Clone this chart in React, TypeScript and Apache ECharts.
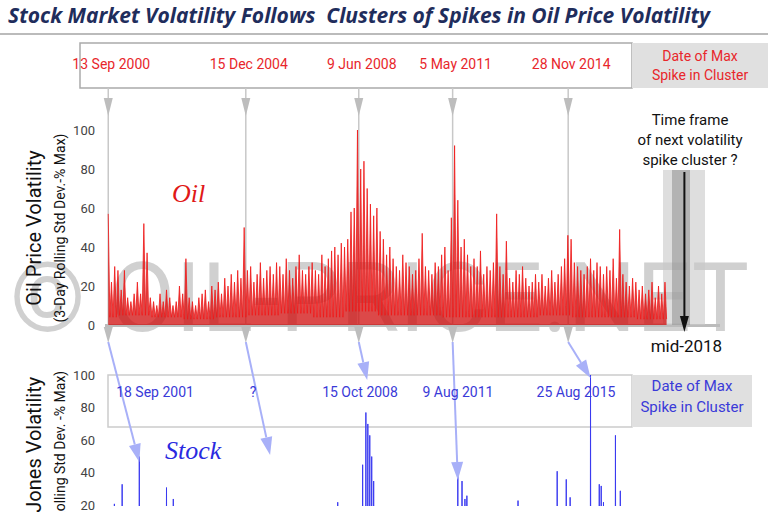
import { useEffect, useRef } from 'react'
import * as echarts from 'echarts'

// oil peaks, 10 per year from 2000.7 to 2017.9
const oilStart = 2000.7
const oilPeaks = [
  57, 22, 30,
  28, 18, 28, 14, 12, 16, 22, 16, 52, 37,
  14, 12, 10, 16, 12, 18, 14, 10, 12, 20,
  16, 34, 14, 12, 10, 14, 16, 18, 12, 20,
  18, 22, 16, 24, 20, 26, 22, 28, 24, 50,
  28, 30, 22, 26, 32, 24, 28, 30, 26, 32,
  30, 26, 34, 28, 24, 30, 36, 28, 26, 30,
  32, 28, 26, 36, 30, 34, 38, 40, 36, 42,
  40, 44, 58, 60, 100, 80, 84, 70, 62, 56,
  60, 48, 44, 36, 40, 34, 30, 28, 36, 32,
  30, 26, 28, 34, 47, 30, 28, 26, 32, 30,
  36, 40, 28, 55, 92, 64, 40, 44, 36, 30,
  34, 30, 38, 26, 30, 28, 32, 57, 30, 26,
  43, 24, 22, 28, 26, 30, 24, 20, 22, 26,
  22, 26, 20, 24, 28, 22, 26, 30, 34, 46,
  44, 32, 30, 28, 26, 30, 34, 28, 32, 30,
  26, 30, 28, 34, 24, 49, 26, 22, 20, 24,
  22, 18, 20, 16, 18, 22, 14, 20, 16, 22,
]
// trough level per year 2000..2017
const oilLows = [4, 5, 4, 3, 4, 5, 6, 4, 7, 5, 5, 4, 4, 4, 5, 4, 4, 3]

const stockYears = [
  2000.89, 2001.13, 2001.66, 2002.5, 2002.71, 2007.79, 2008.56, 2008.66, 2008.72, 2008.78,
  2008.84, 2008.9, 2011.5, 2011.63, 2011.72, 2011.78, 2013.36, 2014.57, 2014.85, 2014.97,
  2015.6, 2015.87, 2015.93, 2016.0, 2016.37, 2016.52,
]
const stockValues = [
  21, 33, 50, 31, 24, 22, 45, 77, 70, 63,
  50, 35, 38, 35, 24, 26, 23, 41, 36, 25,
  100, 33, 32, 22, 63, 29,
]

const oilDates = ['13 Sep 2000', '15 Dec 2004', '9 Jun 2008', '5 May 2011', '28 Nov 2014']
const oilDateYears = [2000.7, 2004.95, 2008.44, 2011.34, 2014.91]
const stockDates = ['18 Sep 2001', '?', '15 Oct 2008', '9 Aug 2011', '25 Aug 2015']
const stockDateYears = [2001.66, 2005.7, 2008.7, 2011.5, 2015.6]

export default function App() {
  const ref = useRef<HTMLDivElement>(null)

  useEffect(() => {
    if (!ref.current) return
    const chart = echarts.init(ref.current, null, { renderer: 'svg' })

    const oilData: number[][] = []
    oilPeaks.forEach((v, i) => {
      const t = oilStart + i * 0.1
      oilData.push([t, v])
      oilData.push([t + 0.05, oilLows[Math.floor(t) - 2000]])
    })
    const stockData: number[][] = [[2000.7, 1]]
    stockYears.forEach((t, i) => {
      stockData.push([t - 0.005, 1], [t, stockValues[i]], [t + 0.005, 1])
    })
    stockData.push([2017.9, 1])

    const xBase = { type: 'value', min: 2000.6, max: 2019.6, show: false }
    const yBase = {
      type: 'value', max: 100, interval: 20,
      axisLabel: { color: '#444', fontSize: 13, fontFamily: 'Roboto', margin: 10 },
      axisLine: { show: false }, axisTick: { show: false }, splitLine: { show: false },
    }

    chart.setOption({
      animation: false,
      grid: [
        { left: 105, right: 48, top: 130, height: 195 },
        { left: 105, right: 48, top: 375, height: 139 },
      ],
      xAxis: [{ ...xBase, gridIndex: 0 }, { ...xBase, gridIndex: 1 }],
      yAxis: [
        { ...yBase, min: 0, gridIndex: 0 },
        { ...yBase, min: 20, gridIndex: 1 },
      ],
      series: [
        {
          type: 'line', data: oilData, symbol: 'none', xAxisIndex: 0, yAxisIndex: 0,
          lineStyle: { color: '#f01818', width: 0.8 },
          areaStyle: { color: '#d00c0c', opacity: 0.75 },
        },
        {
          type: 'line', data: stockData, symbol: 'none', xAxisIndex: 1, yAxisIndex: 1,
          lineStyle: { color: '#3a3af0', width: 1 },
        },
      ],
    })

    const px = (yr: number) => chart.convertToPixel({ xAxisIndex: 0 }, yr) as number
    const g: any[] = []
    const tri = (x: number, y: number, w: number, h: number, fill: string) => ({
      type: 'polygon', shape: { points: [[x - w / 2, y], [x + w / 2, y], [x, y + h]] }, style: { fill },
    })
    const vText = (text: string, x: number, y: number, font: string) => ({
      type: 'text', x, y, rotation: Math.PI / 2,
      style: { text, font, fill: '#111', align: 'center', verticalAlign: 'middle' },
    })

    // watermark
    g.push({ type: 'text', left: 10, top: 250, z: 0, style: { text: '© OIL-PRICE.NET', font: '96px Roboto', fill: 'rgba(150,150,150,0.45)' } })
    // title
    g.push({ type: 'text', left: 8, top: 4, style: { text: 'Stock Market Volatility Follows  Clusters of Spikes in Oil Price Volatility', font: 'italic bold 21px "Open Sans"', fill: '#1f2d5c' } })
    g.push({ type: 'rect', shape: { x: 0, y: 33, width: 768, height: 2 }, style: { fill: '#bbb' } })

    // axis titles
    g.push(vText('Oil Price Volatility', 34, 228, '20px Roboto'))
    g.push(vText('(3-Day Rolling Std Dev.-% Max)', 60, 228, '14px Roboto'))
    g.push(vText('Dow Jones Volatility', 34, 467, '20px Roboto'))
    g.push(vText('(3-Day Rolling Std Dev. -% Max)', 60, 467, '14px Roboto'))

    // top date box
    g.push({ type: 'rect', shape: { x: 80, y: 43, width: 552, height: 45 }, style: { fill: '#fff', stroke: '#aaa', lineWidth: 1.5 } })
    g.push({ type: 'rect', shape: { x: 632, y: 43, width: 136, height: 45 }, style: { fill: '#e0e0e0' } })
    g.push({ type: 'text', x: 700, y: 65, style: { text: 'Date of Max\nSpike in Cluster', font: '14px Roboto', fill: '#e8262b', align: 'center', verticalAlign: 'middle', lineHeight: 19 } })
    // axis line
    g.push({ type: 'rect', shape: { x: 105, y: 324, width: 615, height: 3 }, style: { fill: '#bbb' } })

    oilDateYears.forEach((yr, i) => {
      const x = px(yr)
      g.push({ type: 'line', shape: { x1: x, y1: 88, x2: x, y2: 325 }, style: { stroke: '#c8c8c8', lineWidth: 1.5 } })
      g.push(tri(x, 98, 9, 18, '#bdbdbd'))
      g.push(tri(x, 327, 9, 16, '#bdbdbd'))
      g.push({ type: 'text', x: x + 3, y: 64, style: { text: oilDates[i], font: '14px Roboto', fill: '#e8262b', align: 'center', verticalAlign: 'middle' } })
    })

    // stock date box
    g.push({ type: 'rect', shape: { x: 108, y: 375, width: 524, height: 52 }, style: { fill: 'rgba(255,255,255,0.85)', stroke: '#ccc', lineWidth: 1.5 } })
    g.push({ type: 'rect', shape: { x: 632, y: 375, width: 120, height: 52 }, style: { fill: '#e0e0e0' } })
    g.push({ type: 'text', x: 692, y: 396, style: { text: 'Date of Max\nSpike in Cluster', font: '15px Roboto', fill: '#3a3ad8', align: 'center', verticalAlign: 'middle', lineHeight: 21 } })
    const labelX = [155, 253, 360, 458, 576]
    stockDates.forEach((d, i) => {
      g.push({ type: 'text', x: labelX[i], y: 392, z: 20, style: { text: d, font: '14px Roboto', fill: '#3a3ad8', align: 'center', verticalAlign: 'middle' } })
    })
    const arrowEndY = [462, 455, 380, 480, 378]
    oilDateYears.forEach((yr, i) => {
      const x1 = px(yr), x2 = px(stockDateYears[i])
      const y1 = 342, y2 = arrowEndY[i]
      const ang = Math.atan2(y2 - y1, x2 - x1)
      const L = 18, W = 6
      const bx = x2 - L * Math.cos(ang), by = y2 - L * Math.sin(ang)
      g.push({ type: 'line', z: 15, shape: { x1, y1, x2: bx, y2: by }, style: { stroke: '#a8b0f8', lineWidth: 2 } })
      g.push({
        type: 'polygon', z: 15,
        shape: { points: [[x2, y2], [bx - W * Math.sin(ang), by + W * Math.cos(ang)], [bx + W * Math.sin(ang), by - W * Math.cos(ang)]] },
        style: { fill: '#a8b0f8' },
      })
    })

    // series labels
    g.push({ type: 'text', x: 172, y: 180, style: { text: 'Oil', font: 'italic 26px "Liberation Serif"', fill: '#e01818' } })
    g.push({ type: 'text', x: 165, y: 437, z: 20, style: { text: 'Stock', font: 'italic 26px "Liberation Serif"', fill: '#2a2ae0' } })

    // next cluster
    g.push({ type: 'text', x: 690, y: 140, style: { text: 'Time frame\nof next volatility\nspike cluster ?', font: '15px Roboto', fill: '#111', align: 'center', verticalAlign: 'middle', lineHeight: 20 } })
    g.push({ type: 'rect', shape: { x: 663, y: 170, width: 42, height: 155 }, style: { fill: 'rgba(200,200,200,0.6)' } })
    g.push({ type: 'rect', shape: { x: 672, y: 170, width: 18, height: 155 }, style: { fill: 'rgba(150,150,150,0.6)' } })
    const ax = px(2018.5)
    g.push({ type: 'line', shape: { x1: ax, y1: 172, x2: ax, y2: 318 }, style: { stroke: '#111', lineWidth: 2 } })
    g.push(tri(ax, 316, 9, 16, '#111'))
    g.push({ type: 'text', x: ax + 2, y: 346, style: { text: 'mid-2018', font: '17px Roboto', fill: '#111', align: 'center', verticalAlign: 'middle' } })

    chart.setOption({ graphic: g })

    return () => chart.dispose()
  }, [])

  return <div ref={ref} style={{ position: 'absolute', left: 0, top: 0, width: 768, height: 512, background: '#fff' }} />
}
